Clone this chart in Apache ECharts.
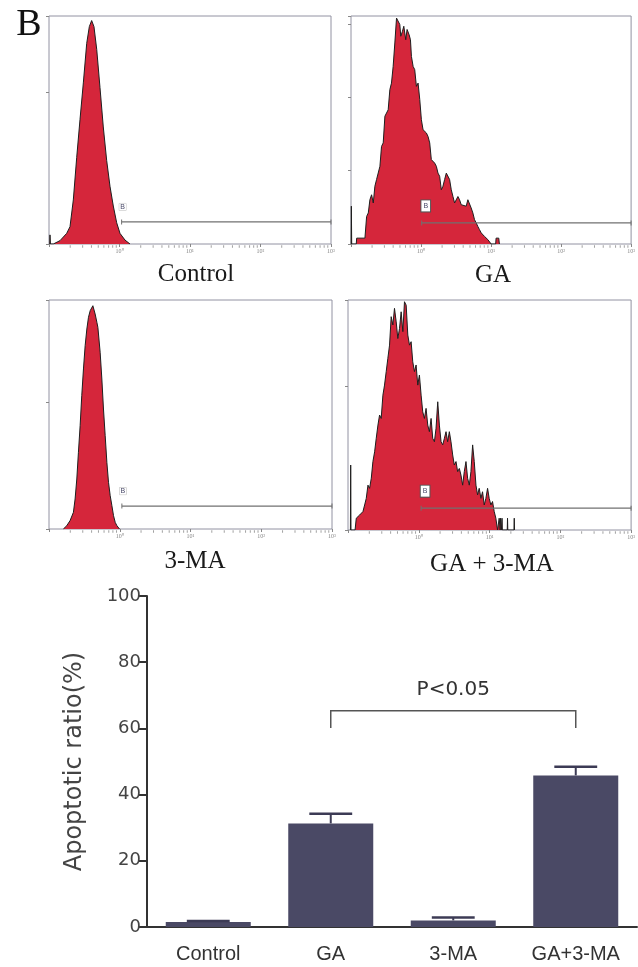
<!DOCTYPE html>
<html><head><meta charset="utf-8">
<script src="https://cdn.jsdelivr.net/npm/echarts@6/dist/echarts.min.js"></script>
<style>html,body{margin:0;padding:0;background:#fff}#c{width:638px;height:967px}</style>
</head><body><div id="c"></div>
<script>
// ---------- Flow-cytometry histograms (x = log10 decade, y = cell count) ----------
const ctrlX = [-0.99,-0.986,-0.98,-0.939,-0.844,-0.749,-0.702,-0.655,-0.607,-0.560,-0.513,-0.465,-0.428,-0.395,-0.362,-0.323,-0.277,-0.230,-0.182,-0.135,-0.088,-0.040,0.007,0.078,0.149];
const ctrlY = [0,6,0,0,2.2,7,11.4,29,57,82,106,132,143,147,143,128,103,77,55,38,25,14,7,2.6,0];

const gaX = [-0.998,-0.995,-0.99,-0.925,-0.919,-0.801,-0.777,-0.753,-0.730,-0.706,-0.682,-0.659,-0.635,-0.587,-0.564,-0.540,-0.516,-0.493,-0.469,-0.445,-0.422,-0.398,-0.374,-0.350,-0.327,-0.303,-0.289,-0.265,-0.246,-0.218,-0.199,-0.170,-0.151,-0.137,-0.113,-0.090,-0.066,-0.042,-0.018,0.005,0.029,0.053,0.076,0.100,0.124,0.147,0.171,0.195,0.219,0.242,0.266,0.290,0.313,0.337,0.361,0.385,0.408,0.432,0.456,0.479,0.503,0.527,0.550,0.574,0.598,0.645,0.669,0.693,0.716,0.740,0.764,0.788,0.811,0.835,0.859,0.906,0.954,1.001,1.066,1.072,1.110,1.119];
const gaY = [0,12.9,0,0,2.0,2.0,9.4,10.6,15.1,16.8,14.0,19.7,22.0,26.5,33.3,34.5,43.6,44.1,45.8,52.7,54.9,60.6,68.6,77.1,76.6,74.9,70.9,72.6,74.3,69.7,73.2,71.4,69.7,64.0,60.6,59.5,53.8,54.9,49.3,42.4,39.0,39.6,37.9,36.7,34.5,28.8,29.4,27.6,26.5,24.2,23.1,18.5,19.7,22.0,24.2,23.7,22.0,18.5,16.2,14.0,14.6,16.2,15.1,13.4,12.9,12.9,15.1,14.6,12.3,10.6,8.3,7.2,6.0,4.9,3.8,2.6,1.5,0,0,2.0,2.0,0];

const maX = [-0.797,-0.749,-0.702,-0.655,-0.631,-0.607,-0.584,-0.560,-0.537,-0.513,-0.489,-0.465,-0.442,-0.418,-0.380,-0.348,-0.323,-0.309,-0.295,-0.277,-0.253,-0.230,-0.206,-0.182,-0.159,-0.135,-0.111,-0.088,-0.064,-0.040,-0.003];
const maY = [0,2.6,6.6,13.1,23.6,39.3,60.3,81.2,104.8,125.8,144.1,157.2,166.4,171.6,175.5,169.0,162.4,158.5,159.8,138.9,117.9,94.3,73.4,52.4,36.7,26.2,18.3,10.5,5.2,2.6,0];

const gamaX = [-0.966,-0.962,-0.958,-0.90,-0.883,-0.836,-0.789,-0.765,-0.742,-0.718,-0.695,-0.671,-0.648,-0.624,-0.601,-0.577,-0.554,-0.531,-0.507,-0.484,-0.460,-0.437,-0.413,-0.390,-0.366,-0.343,-0.319,-0.296,-0.272,-0.249,-0.225,-0.202,-0.178,-0.155,-0.131,-0.108,-0.085,-0.061,-0.038,-0.014,0.009,0.033,0.056,0.080,0.103,0.127,0.150,0.174,0.197,0.221,0.244,0.268,0.291,0.315,0.338,0.362,0.385,0.408,0.432,0.455,0.479,0.502,0.526,0.549,0.573,0.596,0.620,0.643,0.667,0.690,0.714,0.737,0.761,0.784,0.808,0.831,0.854,0.878,0.901,0.925,0.948,0.972,0.995,1.019,1.042,1.066,1.089,1.113,1.132,1.136,1.150,1.155,1.172,1.176,1.180,1.250,1.254,1.258,1.345,1.349,1.353];
const gamaY = [0,22.6,0,0,4.1,5.2,6.4,8.7,11.0,15.6,14.5,18.0,23.8,27.2,31.9,36.5,40.0,38.8,46.9,50.4,55.1,59.7,64.3,74.2,71.3,77.1,72.4,66.6,70.1,75.9,69.0,79.4,78.2,67.8,64.3,65.5,58.5,55.1,57.4,50.4,53.9,46.9,41.1,38.8,42.3,36.5,34.2,38.8,31.9,30.7,35.4,44.6,36.5,30.7,29.6,31.9,34.2,30.7,34.2,30.7,26.1,22.6,23.8,20.3,21.4,19.1,15.6,20.3,23.8,18.0,15.6,20.3,29.6,23.8,15.6,12.2,14.5,11.0,13.3,8.7,11.0,14.5,11.0,8.7,9.9,6.4,4.1,0,0,4.1,0,4.1,0,4.1,0,0,4.1,0,0,4.1,0];

const histX = [ctrlX, gaX, maX, gamaX];
const histY = [ctrlY, gaY, maY, gamaY];
const histTitles = ['Control', 'GA', '3-MA', 'GA + 3-MA'];
const histMax = [150, 77.8, 180, 80];
const histTickStep = [100, 25, 100, 50];
const decadeExp = [-1, 0, 1, 2, 3];
const gateStart = [0.03, 0.01, 0.03, 0.033];
const gateLevel = [14.5, 7.2, 18, 7.6];
const gateName = 'B';

// ---------- Bar chart ----------
const categories = ['Control', 'GA', '3-MA', 'GA+3-MA'];
const ratioMean = [1.5, 31.3, 2.0, 45.8];
const ratioErr = [0.3, 2.9, 0.9, 2.6];
const sig = { from: 1, to: 3, level: 65.3, drop: 60.1, label: 'P<0.05' };

// ---------- layout ----------
const histGrids = [
  { left: 49, top: 16, width: 282, height: 228 },
  { left: 351, top: 16, width: 281, height: 228 },
  { left: 49, top: 300, width: 283, height: 229 },
  { left: 348, top: 300, width: 286, height: 230 }
];
const titlePos = [[196, 274], [493, 275], [195, 561], [492, 564]];
const sup = { '0': '\u2070', '1': '\u00b9', '2': '\u00b2', '3': '\u00b3' };
const RED = '#d5263b';

const grids = [], xAxes = [], yAxes = [], series = [], graphics = [];
histGrids.forEach((g, i) => {
  grids.push(Object.assign({ show: true, borderColor: '#9292a2', borderWidth: 1, backgroundColor: 'transparent' }, g));
  xAxes.push({
    gridIndex: i, type: 'value', min: -1, max: 3, interval: 1,
    axisLine: { show: false, onZero: false },
    axisTick: { show: true, length: 3, lineStyle: { color: '#888' } },
    axisLabel: { show: true, fontSize: 6, color: '#888', margin: 4, fontFamily: 'Liberation Serif',
      formatter: v => (v >= 0 ? '10' + sup[String(v)] : '') },
    splitLine: { show: false }
  });
  yAxes.push({
    gridIndex: i, type: 'value', min: 0, max: histMax[i], interval: histTickStep[i],
    axisLine: { show: false, onZero: false },
    axisTick: { show: true, length: 3, lineStyle: { color: '#888' } },
    axisLabel: { show: false }, splitLine: { show: false }
  });
  series.push({
    type: 'line', xAxisIndex: i, yAxisIndex: i, symbol: 'none', silent: true,
    data: histX[i].map((x, k) => [x, histY[i][k]]),
    lineStyle: { color: '#1e1e1e', width: 1 },
    areaStyle: { color: RED, opacity: 1 }, z: 3
  });
  const boxed = (i === 1 || i === 3);
  series.push({
    type: 'line', xAxisIndex: i, yAxisIndex: i, silent: true, z: 5,
    symbol: 'rect', symbolSize: [1, 5], showSymbol: true,
    itemStyle: { color: '#707070' },
    lineStyle: { color: '#707070', width: 1.3 },
    data: [
      { value: [gateStart[i], gateLevel[i]],
        label: { show: true, formatter: gateName, position: 'top', distance: 9, offset: [boxed ? 4 : 1, 0],
          fontSize: 7, color: '#4a4a6a', backgroundColor: '#fff', borderColor: boxed ? '#555' : '#bbb',
          borderWidth: boxed ? 1 : 0.5, padding: boxed ? [2, 2] : [0, 1], fontFamily: 'Liberation Sans' } },
      { value: [3, gateLevel[i]], label: { show: false } }
    ]
  });
  const minor = [];
  decadeExp.slice(0, 4).forEach(d => { for (let k = 2; k <= 9; k++) minor.push([d + Math.log10(k), 0]); });
  series.push({
    type: 'scatter', xAxisIndex: i, yAxisIndex: i, silent: true, clip: false, z: 6,
    symbol: 'rect', symbolSize: [1, 2.5], symbolOffset: [0, 2.5],
    itemStyle: { color: '#8a8a8a' }, data: minor
  });
  graphics.push({
    type: 'text', x: titlePos[i][0], y: titlePos[i][1],
    style: { text: histTitles[i], font: '25px "Liberation Serif"', fill: '#1a1a1a',
      textAlign: 'center', textVerticalAlign: 'middle', align: 'center', verticalAlign: 'middle' }
  });
});
graphics.push({
  type: 'text', x: 29, y: 25,
  style: { text: 'B', font: '38px "Liberation Serif"', fill: '#111',
    textAlign: 'center', textVerticalAlign: 'middle', align: 'center', verticalAlign: 'middle' }
});

// bar chart grid
const bi = 4;
grids.push({ left: 147, top: 596, width: 490, height: 331 });
xAxes.push({
  gridIndex: bi, type: 'category', data: categories,
  axisLine: { lineStyle: { color: '#333', width: 2 } },
  axisTick: { alignWithLabel: true, length: 10, lineStyle: { color: '#333', width: 2 } },
  axisLabel: { fontFamily: 'Liberation Sans', fontSize: 20, color: '#333', margin: 17 }
});
yAxes.push({
  gridIndex: bi, type: 'value', min: 0, max: 100, interval: 20,
  name: 'Apoptotic ratio(%)', nameLocation: 'middle', nameGap: 60,
  nameTextStyle: { fontFamily: 'DejaVu Sans', fontSize: 24, color: '#444' },
  axisLine: { show: true, lineStyle: { color: '#333', width: 2 } },
  axisTick: { show: true, length: 8, lineStyle: { color: '#333', width: 2 } },
  axisLabel: { fontFamily: 'DejaVu Sans', fontSize: 18, color: '#444', margin: 6 },
  splitLine: { show: false }
});
series.push({
  type: 'bar', xAxisIndex: bi, yAxisIndex: bi, data: ratioMean, barWidth: 85,
  itemStyle: { color: '#4a4965' }, silent: true, z: 2
});
series.push({
  type: 'custom', xAxisIndex: bi, yAxisIndex: bi, silent: true, z: 3,
  data: categories.map((c, i) => [i, ratioMean[i], ratioErr[i]]),
  renderItem: (params, api) => {
    const base = api.coord([api.value(0), api.value(1)]);
    const top = api.coord([api.value(0), api.value(1) + api.value(2)]);
    const half = api.size([1, 0])[0] * 0.175;
    return { type: 'group', children: [
      { type: 'line', shape: { x1: base[0], y1: base[1], x2: top[0], y2: top[1] }, style: { stroke: '#3c3b55', lineWidth: 2 } },
      { type: 'line', shape: { x1: top[0] - half, y1: top[1], x2: top[0] + half, y2: top[1] }, style: { stroke: '#3c3b55', lineWidth: 2.5 } }
    ] };
  }
});
series.push({
  type: 'custom', xAxisIndex: bi, yAxisIndex: bi, silent: true, z: 4,
  data: [[sig.from, sig.to, sig.level, sig.drop]],
  renderItem: (params, api) => {
    const a = api.coord([api.value(0), api.value(3)]);
    const b = api.coord([api.value(0), api.value(2)]);
    const c = api.coord([api.value(1), api.value(2)]);
    const d = api.coord([api.value(1), api.value(3)]);
    return { type: 'group', children: [
      { type: 'polyline', shape: { points: [a, b, c, d] }, style: { stroke: '#555', lineWidth: 1.5, fill: null } },
      { type: 'text', x: (b[0] + c[0]) / 2, y: b[1] - 21,
        style: { text: sig.label, font: '20px "DejaVu Sans"', fill: '#333',
          textAlign: 'center', textVerticalAlign: 'middle', align: 'center', verticalAlign: 'middle' } }
    ] };
  }
});

const chart = echarts.init(document.getElementById('c'), null, { renderer: 'canvas' });
chart.setOption({
  backgroundColor: '#ffffff', animation: false,
  grid: grids, xAxis: xAxes, yAxis: yAxes, series: series, graphic: graphics
});
</script></body></html>
